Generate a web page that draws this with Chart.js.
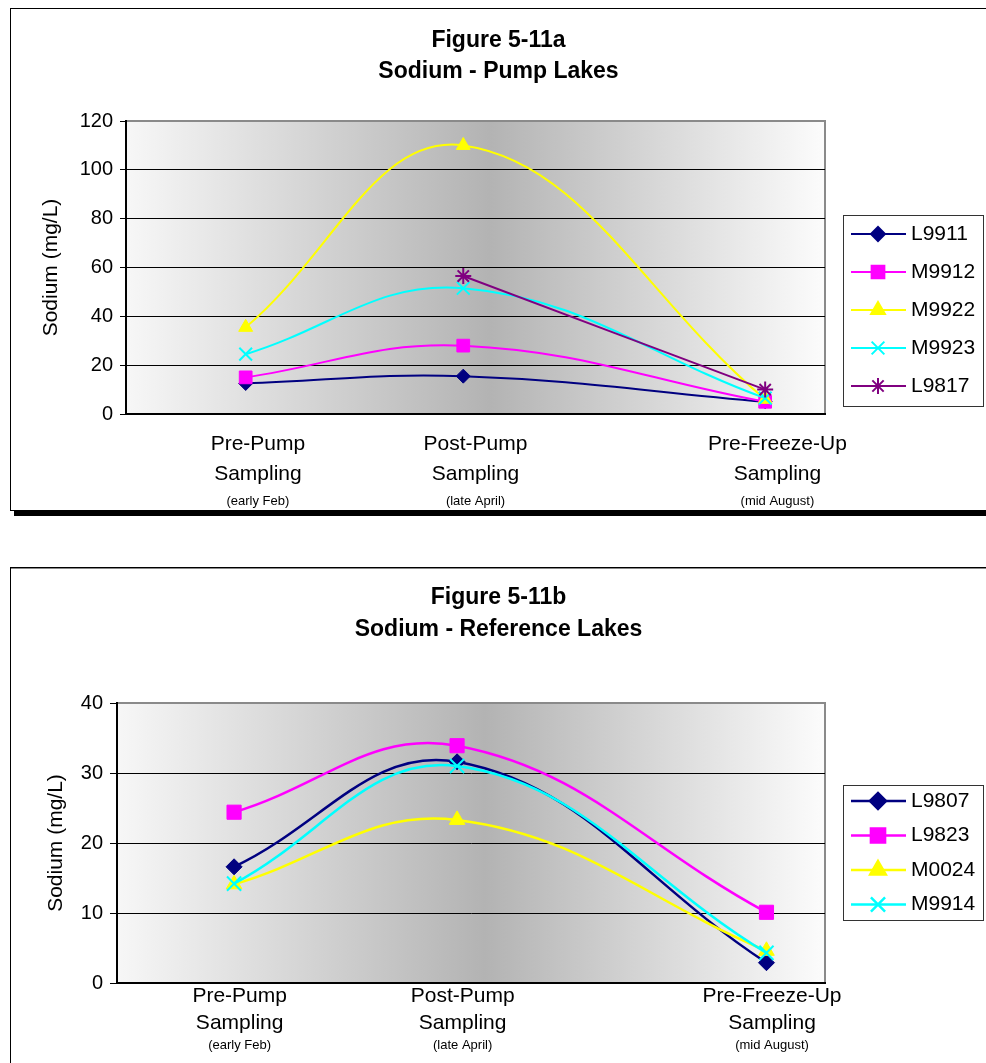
<!DOCTYPE html>
<html>
<head>
<meta charset="utf-8">
<script src="https://cdn.jsdelivr.net/npm/chart.js@4.4.1/dist/chart.umd.min.js"></script>
<style>
  html, body { margin: 0; padding: 0; background: #fff; overflow: hidden; }
  body { width: 986px; height: 1063px; position: relative; }
  .frame { position: absolute; border: 1px solid #000; background: #fff; }
  #frameA { left: 10px; top: 8px; width: 1000px; height: 501px; box-shadow: 4px 5px 0 #000; }
  #frameB { left: 10px; top: 567px; width: 1000px; height: 540px; box-shadow: inset 0 1px 0 #888; }
  canvas { position: absolute; }
  #chartA { left: 11px; top: 9px; }
  #chartB { left: 11px; top: 569px; }
</style>
</head>
<body>
<div class="frame" id="frameA"></div>
<div class="frame" id="frameB"></div>
<canvas id="chartA" width="975" height="500"></canvas>
<canvas id="chartB" width="975" height="494"></canvas>
<script>
// sampling dates as day of year (x axis is a date axis in the original)
const sampleDays = [36, 116, 227];
const categories = [['Pre-Pump', 'Sampling'], ['Post-Pump', 'Sampling'], ['Pre-Freeze-Up', 'Sampling']];
const periods = ['(early Feb)', '(late April)', '(mid August)'];

// Figure 5-11a - pump lakes (mg/L)
const pumpNames = ['L9911', 'M9912', 'M9922', 'M9923', 'L9817'];
const l9911 = [12.5, 15.5, 5];
const m9912 = [15, 28, 5];
const m9922 = [35.5, 110, 6];
const m9923 = [24.5, 51.5, 6.5];
const l9817 = [null, 56.5, 10];
const pumpTicks = [0, 20, 40, 60, 80, 100, 120];

// Figure 5-11b - reference lakes (mg/L)
const refNames = ['L9807', 'L9823', 'M0024', 'M9914'];
const l9807 = [16.6, 31.6, 2.9];
const l9823 = [24.4, 33.9, 10.1];
const m0024 = [14.1, 23.3, 4.6];
const m9914 = [14.2, 31.0, 4.3];
const refTicks = [0, 10, 20, 30, 40];

const FONT = '"Liberation Sans", Arial, sans-serif';

const styleA = [
    { color: '#000080', shape: 'rectRot', radius: 7 },
    { color: '#ff00ff', shape: 'rect', radius: 9 },
    { color: '#ffff00', shape: 'triangle', radius: 8 },
    { color: '#00ffff', shape: 'crossRot', radius: 9 },
    { color: '#800080', shape: 'star', radius: 8 }
];
const styleB = [
    { color: '#000080', shape: 'rectRot', radius: 8 },
    { color: '#ff00ff', shape: 'rect', radius: 10 },
    { color: '#ffff00', shape: 'triangle', radius: 9 },
    { color: '#00ffff', shape: 'crossRot', radius: 10 }
];

// grey gradient behind the plot area
const plotBg = {
    id: 'plotBg',
    beforeDraw(chart) {
        const { ctx, chartArea: a } = chart;
        const g = ctx.createLinearGradient(a.left, 0, a.right, 0);
        g.addColorStop(0, '#f7f7f7');
        g.addColorStop(0.52, '#b3b3b3');
        g.addColorStop(1, '#fcfcfc');
        ctx.save();
        ctx.fillStyle = g;
        ctx.fillRect(a.left, a.top, a.right - a.left, a.bottom - a.top);
        ctx.strokeStyle = '#8a8a8a';
        ctx.lineWidth = 2;
        ctx.beginPath();
        ctx.moveTo(a.left, a.top);
        ctx.lineTo(a.right, a.top);
        ctx.lineTo(a.right, a.bottom);
        ctx.stroke();
        ctx.restore();
    }
};

// boxed legend with line + marker samples, like the Excel original
const boxLegend = {
    id: 'boxLegend',
    afterDraw(chart, args, opts) {
        const ctx = chart.ctx;
        ctx.save();
        ctx.strokeStyle = '#333';
        ctx.lineWidth = 1;
        ctx.strokeRect(opts.x + 0.5, opts.y + 0.5, opts.w, opts.h);
        chart.data.datasets.forEach((d, i) => {
            const y = opts.y + opts.first + i * opts.gap;
            ctx.strokeStyle = d.borderColor;
            ctx.lineWidth = d.borderWidth;
            ctx.beginPath();
            ctx.moveTo(opts.x + 8, y);
            ctx.lineTo(opts.x + 63, y);
            ctx.stroke();
            ctx.fillStyle = d.pointBackgroundColor;
            ctx.strokeStyle = d.pointBorderColor;
            if (Chart.helpers && Chart.helpers.drawPoint) {
                Chart.helpers.drawPoint(ctx, {
                    pointStyle: d.pointStyle, radius: d.pointRadius,
                    rotation: 0, borderWidth: d.pointBorderWidth
                }, opts.x + 35, y);
            }
            ctx.fillStyle = '#000';
            ctx.font = '21px ' + FONT;
            ctx.textAlign = 'left';
            ctx.textBaseline = 'middle';
            ctx.fillText(d.label, opts.x + 68, y);
        });
        ctx.restore();
    }
};

function buildChart(id, o) {
    const datasets = o.names.map((name, i) => {
        const s = o.styles[i];
        const thick = s.shape === 'crossRot' || s.shape === 'star';
        return {
            label: name,
            data: o.values[i].map((v, k) => ({ x: sampleDays[k], y: v })),
            borderColor: s.color,
            backgroundColor: s.color,
            pointBackgroundColor: s.color,
            pointBorderColor: s.color,
            pointStyle: s.shape,
            pointRadius: s.radius,
            pointBorderWidth: thick ? 2 : 1,
            borderWidth: o.lineWidth,
            tension: 0.4,
            fill: false,
            clip: false,
            order: o.names.length - i
        };
    });

    const dayTicks = s => { s.ticks = sampleDays.map(v => ({ value: v })); };
    // the category text sits a little right of the sample dates in the original
    const lMin = o.xMin - o.labelShift, lMax = o.xMax - o.labelShift;

    return new Chart(document.getElementById(id), {
        type: 'line',
        data: { datasets: datasets },
        options: {
            responsive: false,
            animation: false,
            layout: { padding: 0 },
            plugins: {
                legend: { display: false },
                tooltip: { enabled: false },
                title: {
                    display: true,
                    text: o.title,
                    color: '#000',
                    font: { family: FONT, size: 23, weight: 'bold', lineHeight: o.titleLine / 23 },
                    padding: { top: o.titleTop, bottom: o.titleBottom }
                },
                boxLegend: o.legend
            },
            scales: {
                x: {
                    type: 'linear', display: false,
                    min: o.xMin, max: o.xMax
                },
                xl: {
                    type: 'linear', position: 'bottom', weight: 0,
                    min: lMin, max: lMax,
                    afterBuildTicks: dayTicks,
                    afterFit: s => { s.height = o.xHeight; },
                    grid: { display: false, drawTicks: false },
                    border: { display: true, color: '#000', width: 2 },
                    ticks: {
                        autoSkip: false, maxRotation: 0, padding: o.xPad, color: '#000',
                        font: { family: FONT, size: 21, lineHeight: o.xLine / 21 },
                        callback: (v, i) => categories[i]
                    }
                },
                xs: {
                    type: 'linear', position: 'bottom', weight: 1,
                    min: lMin, max: lMax,
                    afterBuildTicks: dayTicks,
                    afterFit: s => { s.height = o.x2Height; },
                    grid: { display: false, drawTicks: false },
                    border: { display: false },
                    ticks: {
                        autoSkip: false, maxRotation: 0, padding: o.x2Pad, color: '#000',
                        font: { family: FONT, size: 13 },
                        callback: (v, i) => periods[i]
                    }
                },
                y: {
                    position: 'left',
                    min: o.yTicks[0], max: o.yTicks[o.yTicks.length - 1],
                    afterBuildTicks: s => { s.ticks = o.yTicks.map(v => ({ value: v })); },
                    afterFit: s => { s.width = o.yWidth; },
                    grid: {
                        color: c => (c.tick && c.tick.value === o.yTicks[o.yTicks.length - 1]) ? 'rgba(0,0,0,0)' : '#000',
                        lineWidth: 1, drawTicks: true, tickLength: o.tickLen, tickColor: '#000'
                    },
                    border: { display: true, color: '#000', width: 2 },
                    ticks: { padding: 7, color: '#000', font: { family: FONT, size: 20 } },
                    title: {
                        display: true, text: 'Sodium (mg/L)', color: '#000',
                        font: { family: FONT, size: 21 },
                        padding: { top: o.yTitlePad, bottom: 0 }
                    }
                },
                // empty right-hand strip that holds the legend
                legendRoom: {
                    type: 'linear', position: 'right',
                    afterFit: s => { s.width = 161; },
                    grid: { display: false, drawTicks: false },
                    border: { display: false },
                    ticks: { display: false }
                }
            }
        },
        plugins: [plotBg, boxLegend]
    });
}

buildChart('chartA', {
    title: ['Figure 5-11a', 'Sodium - Pump Lakes'],
    names: pumpNames,
    values: [l9911, m9912, m9922, m9923, l9817],
    styles: styleA,
    yTicks: pumpTicks,
    lineWidth: 2,
    titleLine: 31, titleTop: 16, titleBottom: 34,
    xMin: -8, xMax: 249, labelShift: 4.5,
    xHeight: 75, xPad: 15, xLine: 30,
    x2Height: 20, x2Pad: 5,
    yWidth: 115, tickLen: 6, yTitlePad: 28,
    legend: { x: 832, y: 206, w: 140, h: 191, first: 19, gap: 38 }
});

buildChart('chartB', {
    title: ['Figure 5-11b', 'Sodium - Reference Lakes'],
    names: refNames,
    values: [l9807, l9823, m0024, m9914],
    styles: styleB,
    yTicks: refTicks,
    lineWidth: 2.5,
    titleLine: 32, titleTop: 13, titleBottom: 57,
    xMin: -6, xMax: 248, labelShift: 2,
    xHeight: 52, xPad: 0, xLine: 27,
    x2Height: 28, x2Pad: 3,
    yWidth: 106, tickLen: 7, yTitlePad: 33,
    legend: { x: 832, y: 216, w: 140, h: 135, first: 16, gap: 34.5 }
});
</script>
</body>
</html>
